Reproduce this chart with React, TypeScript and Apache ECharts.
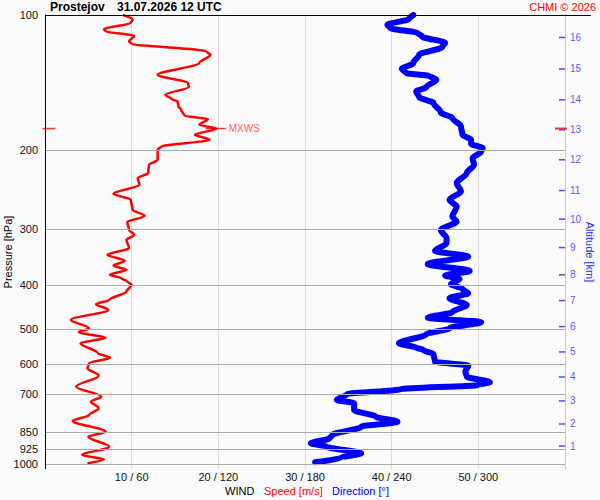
import { useEffect, useRef } from 'react';
import * as echarts from 'echarts';

const FONT = 'Arial, "Liberation Sans", Helvetica, sans-serif';

// pressure levels with grid lines / labels (hPa)
const pressureLevels = [100, 200, 300, 400, 500, 600, 700, 850, 925, 1000];
// speed ticks (m/s), direction = speed * 6
const speedTicks = [10, 20, 30, 40, 50];

// wind speed profile
const speedPressure = [
  100, 102.4, 104.2, 107.5, 108.8, 111.2, 114.5, 115.9, 120.5, 122.6,
  127.9, 135.9, 141.8, 144.7, 150.5, 153.9, 155.8, 159.9, 162.6, 167.7,
  170.5, 175.6, 179, 184.8, 189.6, 196.3, 199.6, 210.1, 215.6, 224.9,
  230.8, 238.9, 250.2, 258.0, 271.6, 280.1, 289.3, 301.0, 308.8, 316.8,
  330.6, 342.1, 352.8, 361.4, 369.4, 379.0, 385.5, 392.3, 399.0, 413.0,
  431.0, 440.6, 453.7, 477.6, 498.5, 508.8, 523.1, 538.3, 566.7, 579.6,
  596.5, 611.9, 635.6, 672.5, 707.9, 726.3, 751.3, 777.6, 802.0, 847.2,
  869.3, 915.2, 955.0, 976.1, 996.4,
];
const speedValues = [
  9.0, 10.1, 9.9, 6.8, 7.0, 10.3, 9.7, 10.0, 18.6, 19.1,
  17.8, 13.0, 16.5, 16.6, 13.9, 14.6, 15.3, 15.4, 15.7, 16.1,
  18.8, 17.8, 19.8, 17.3, 19.0, 13.4, 13.0, 13.0, 12.0, 11.9,
  10.7, 10.9, 7.9, 9.9, 10.1, 11.5, 9.5, 9.7, 10.3, 9.4,
  9.7, 7.2, 9.2, 7.9, 9.4, 7.5, 8.8, 9.5, 10.0, 9.4,
  7.4, 5.9, 7.3, 3.0, 5.1, 3.9, 7.0, 4.1, 6.1, 7.5,
  5.1, 4.9, 6.2, 3.6, 6.5, 5.3, 6.2, 5.1, 3.2, 7.0,
  5.0, 7.4, 4.3, 6.8, 4.9,
];

// wind direction profile
const dirPressure = [
  100, 102.1, 105.1, 106.9, 109.7, 111.6, 115.4, 117.8, 122.6, 127.9,
  131.9, 134.7, 136.6, 139.4, 144.7, 148.0, 152.3, 157.1, 164.9, 169.6,
  177.1, 184.8, 189.6, 193.6, 197.9, 201.4, 208.4, 215.6, 224.9, 236.8,
  247.2, 258.0, 267.1, 281.1, 288.4, 301.0, 314.1, 322.2, 335.2, 345.1,
  358.8, 371.5, 380.5, 387.0, 397.6, 407.4, 416.6, 427.3, 442.2, 459.1,
  472.1, 483.3, 498.5, 514.1, 538.3, 550.6, 557.1, 569.6, 591.6, 603.9,
  622.8, 638.9, 657.6, 666.7, 681.6, 699.2, 720.0, 732.3, 758.1, 784.6,
  805.0, 826.0, 861.9, 876.5, 899.4, 915.0, 946.6, 968.3, 991.3,
];
const dirValues = [
  255, 252, 237, 239, 258, 261, 277, 275, 259, 255,
  247, 250, 266, 271, 264, 257, 259, 269, 274, 282,
  288, 289, 295, 295, 303, 302, 296, 297, 292, 285,
  288, 280, 285, 282, 285, 274, 278, 278, 270, 293,
  265, 294, 277, 287, 281, 289, 293, 280, 292, 282,
  265, 302, 280, 264, 245, 257, 262, 269, 270, 293,
  291, 292, 308, 300, 246, 209, 202, 214, 214, 229,
  244, 219, 199, 197, 184, 195, 219, 205, 187,
];

// altitude scale on the right
const altitudeKm = [1, 2, 3, 4, 5, 6, 7, 8, 9, 10, 11, 12, 13, 14, 15, 16];
const altitudePressure = [
  911.9, 814.5, 723.6, 640.0, 562.9, 494.3, 432.6, 379.0,
  329.6, 284.9, 246.0, 210.1, 180.2, 154.5, 131.9, 112.2,
];

// max wind level
const maxWindSpeed = 19.7;
const maxWindPressure = 179;

const App = () => {
  const chartRef = useRef<HTMLDivElement>(null);

  useEffect(() => {
    if (!chartRef.current) return;
    const chart = echarts.init(chartRef.current, undefined, { renderer: 'svg' });

    const option = {
      animation: false,
      backgroundColor: '#fafafa',
      textStyle: { fontFamily: FONT },
      grid: { left: 45, right: 35, top: 15, bottom: 36 },
      xAxis: [
        {
          type: 'value',
          min: 0,
          max: 60,
          interval: 10,
          axisLine: { show: false },
          axisTick: { show: true, length: 5, lineStyle: { color: '#ddd' } },
          splitLine: { show: true, lineStyle: { color: '#ddd', width: 1 } },
          axisLabel: {
            formatter: (v: number) => (speedTicks.includes(v) ? `${v} / ${v * 6}` : ''),
            fontSize: 11,
            color: '#111',
            margin: 7,
            fontFamily: FONT,
          },
        },
        { type: 'value', min: 0, max: 360, show: false },
      ],
      yAxis: [
        {
          type: 'log',
          logBase: 10,
          min: 100,
          max: 1000,
          inverse: true,
          position: 'left',
          axisLine: { show: true, onZero: false, lineStyle: { color: '#000' } },
          axisTick: { show: false },
          axisLabel: { show: false },
          splitLine: { show: false },
        },
        {
          type: 'log',
          logBase: 10,
          min: 100,
          max: 1000,
          inverse: true,
          position: 'right',
          axisLine: { show: true, onZero: false, lineStyle: { color: '#ccc' } },
          axisTick: { show: false },
          axisLabel: { show: false },
          splitLine: { show: false },
        },
      ],
      graphic: [
        { type: 'line', shape: { x1: 45, y1: 15.5, x2: 591, y2: 15.5 }, style: { stroke: '#000', lineWidth: 1 }, z: 10 },
        { type: 'line', shape: { x1: 45.5, y1: 15, x2: 45.5, y2: 469 }, style: { stroke: '#000', lineWidth: 1 }, z: 10 },
        { type: 'line', shape: { x1: 565.5, y1: 15, x2: 565.5, y2: 469 }, style: { stroke: '#ccc', lineWidth: 1 }, z: 1 },
        {
          type: 'text', x: 50, y: 7,
          style: { text: 'Prostejov', fontSize: 12, fontWeight: 'bold', fontFamily: FONT, fill: '#000', verticalAlign: 'middle' },
        },
        {
          type: 'text', x: 117, y: 7,
          style: { text: '31.07.2026 12 UTC', fontSize: 12, fontWeight: 'bold', fontFamily: FONT, fill: '#000', verticalAlign: 'middle' },
        },
        {
          type: 'text', x: 596, y: 7,
          style: { text: 'CHMI © 2026', fontSize: 11, fontFamily: FONT, fill: '#ff0000', align: 'right', verticalAlign: 'middle' },
        },
        {
          type: 'text', x: 225, y: 491,
          style: { text: 'WIND', fontSize: 11, fontFamily: FONT, fill: '#000', verticalAlign: 'middle' },
        },
        {
          type: 'text', x: 264, y: 491,
          style: { text: 'Speed [m/s]', fontSize: 11, fontFamily: FONT, fill: '#ff0000', verticalAlign: 'middle' },
        },
        {
          type: 'text', x: 332, y: 491,
          style: { text: 'Direction [°]', fontSize: 11, fontFamily: FONT, fill: '#0000ff', verticalAlign: 'middle' },
        },
        {
          type: 'text', x: 8, y: 252, rotation: Math.PI / 2,
          style: { text: 'Pressure [hPa]', fontSize: 11, fontFamily: FONT, fill: '#000', align: 'center', verticalAlign: 'middle' },
        },
        {
          type: 'text', x: 590, y: 252, rotation: -Math.PI / 2,
          style: { text: 'Altitude [km]', fontSize: 11, fontFamily: FONT, fill: '#2a2aff', align: 'center', verticalAlign: 'middle' },
        },
      ],
      series: [
        {
          // pressure grid lines with labels
          type: 'line',
          data: [],
          silent: true,
          markLine: {
            silent: true,
            symbol: ['none', 'none'],
            animation: false,
            lineStyle: { color: '#aaa', type: 'solid', width: 1 },
            label: {
              show: true,
              position: 'start',
              distance: 7,
              color: '#111',
              fontSize: 11,
              fontFamily: FONT,
              formatter: (p: any) => String(p.value),
            },
            emphasis: { disabled: true },
            data: pressureLevels.map((p) => ({ yAxis: p })),
          },
        },
        {
          name: 'Speed',
          type: 'line',
          data: speedValues.map((s, i) => [s, speedPressure[i]]),
          showSymbol: false,
          smooth: 0.3,
          smoothMonotone: 'y',
          lineStyle: { color: '#ff0000', width: 2.5, join: 'round' },
          itemStyle: { color: '#ff0000' },
          z: 3,
        },
        {
          name: 'Direction',
          type: 'line',
          xAxisIndex: 1,
          data: dirValues.map((d, i) => [d, dirPressure[i]]),
          showSymbol: false,
          smooth: 0.3,
          smoothMonotone: 'y',
          lineStyle: { color: '#0000ff', width: 6, cap: 'round', join: 'round' },
          itemStyle: { color: '#0000ff' },
          z: 3,
        },
        {
          name: 'Altitude',
          type: 'scatter',
          data: altitudePressure.map((p, i) => [60, p, altitudeKm[i]]),
          symbol: 'rect',
          symbolSize: [6, 1.5],
          symbolOffset: [-3, 0],
          itemStyle: { color: '#2020ff' },
          clip: false,
          silent: true,
          label: {
            show: true,
            position: 'right',
            distance: 5,
            formatter: (p: any) => String(p.value[2]),
            color: '#2a2aff',
            fontSize: 10,
            fontFamily: FONT,
          },
          z: 4,
        },
        {
          name: 'MXWS',
          type: 'scatter',
          symbol: 'rect',
          itemStyle: { color: '#ff0000' },
          clip: false,
          silent: true,
          z: 5,
          data: [
            {
              value: [maxWindSpeed, maxWindPressure],
              symbolSize: [20, 1.5],
              label: { show: true, position: 'right', distance: 3, formatter: 'MXWS', color: '#ff3030', fontSize: 10, fontFamily: FONT },
            },
            { value: [0, maxWindPressure], symbolSize: [13, 1.5], symbolOffset: [4, 0] },
            { value: [60, maxWindPressure], symbolSize: [12, 2], symbolOffset: [-4, 0] },
          ],
        },
      ],
    };

    chart.setOption(option as any);

    return () => {
      chart.dispose();
    };
  }, []);

  return (
    <div
      ref={chartRef}
      style={{ position: 'fixed', left: 0, top: 0, width: '600px', height: '500px' }}
    />
  );
};

export default App;
